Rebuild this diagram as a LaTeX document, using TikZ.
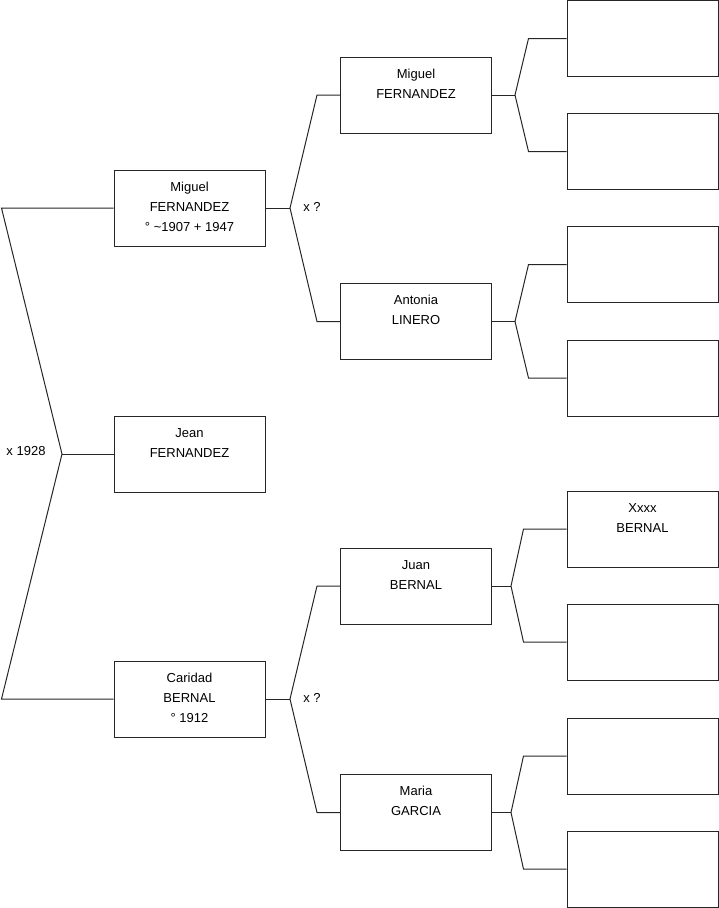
\documentclass[tikz,border=0pt]{standalone}
\usepackage{fontspec}
\setmainfont{Liberation Sans}
\newcommand\boxtext[1]{\parbox[c][76pt][t]{151pt}{\centering\fontsize{13}{20}\selectfont\rule{0pt}{21pt}#1}}
\begin{document}
\begin{tikzpicture}[x=1pt,y=-1pt,
  person/.style={draw=black!85,line width=1pt,inner sep=0pt,minimum width=151pt,minimum height=76pt},
  link/.style={draw=black!85,line width=1pt},
  marriage/.style={font=\fontsize{13}{16}\selectfont,inner sep=0pt}]
\useasboundingbox (0,0) rectangle (719,908);
% level 1
\node[person] (m1) at (189.5,208) {\boxtext{Miguel\\FERNANDEZ\\° \textasciitilde1907 + 1947}};
\node[person] (jn) at (189.5,454) {\boxtext{Jean\\FERNANDEZ}};
\node[person] (cb) at (189.5,699) {\boxtext{Caridad\\BERNAL\\° 1912}};
% level 2
\node[person] (m2) at (416,95) {\boxtext{Miguel\\FERNANDEZ}};
\node[person] (al) at (416,321.5) {\boxtext{Antonia\\LINERO}};
\node[person] (jb) at (416,586) {\boxtext{Juan\\BERNAL}};
\node[person] (mg) at (416,812.5) {\boxtext{Maria\\GARCIA}};
% level 3
\node[person] (p1) at (642.5,38.5) {\boxtext{}};
\node[person] (p2) at (642.5,151.5) {\boxtext{}};
\node[person] (p3) at (642.5,264.5) {\boxtext{}};
\node[person] (p4) at (642.5,378) {\boxtext{}};
\node[person] (p5) at (642.5,529) {\boxtext{Xxxx\\BERNAL}};
\node[person] (p6) at (642.5,642) {\boxtext{}};
\node[person] (p7) at (642.5,756) {\boxtext{}};
\node[person] (p8) at (642.5,869) {\boxtext{}};
% connectors level 1
\coordinate (b0) at (62,454);
\draw[link] (m1.west) -- (1.5,208) -- (b0) -- (1.5,699) -- (cb.west);
\draw[link] (b0) -- (jn.west);
\node[marriage] (x0) at (26,451) {x 1928};
% connectors level 2
\coordinate (b1) at (290,208);
\coordinate (b2) at (290,699);
\draw[link] (m1.east) -- (b1);
\draw[link] (m2.west) -- ++(-23,0) -- (b1) -- ([xshift=-23pt]al.west) -- (al.west);
\node[marriage] (x1) at (312,207) {x ?};
\draw[link] (cb.east) -- (b2);
\draw[link] (jb.west) -- ++(-23,0) -- (b2) -- ([xshift=-23pt]mg.west) -- (mg.west);
\node[marriage] (x2) at (312,698) {x ?};
% connectors level 3
\coordinate (c1) at (515,95);
\coordinate (c2) at (515,321.5);
\coordinate (c3) at (511,586);
\coordinate (c4) at (511,812.5);
\draw[link] (m2.east) -- (c1);
\draw[link] (p1.west) -- ++(-38,0) -- (c1) -- ([xshift=-38pt]p2.west) -- (p2.west);
\draw[link] (al.east) -- (c2);
\draw[link] (p3.west) -- ++(-38,0) -- (c2) -- ([xshift=-38pt]p4.west) -- (p4.west);
\draw[link] (jb.east) -- (c3);
\draw[link] (p5.west) -- ++(-43,0) -- (c3) -- ([xshift=-43pt]p6.west) -- (p6.west);
\draw[link] (mg.east) -- (c4);
\draw[link] (p7.west) -- ++(-43,0) -- (c4) -- ([xshift=-43pt]p8.west) -- (p8.west);
\end{tikzpicture}
\end{document}
